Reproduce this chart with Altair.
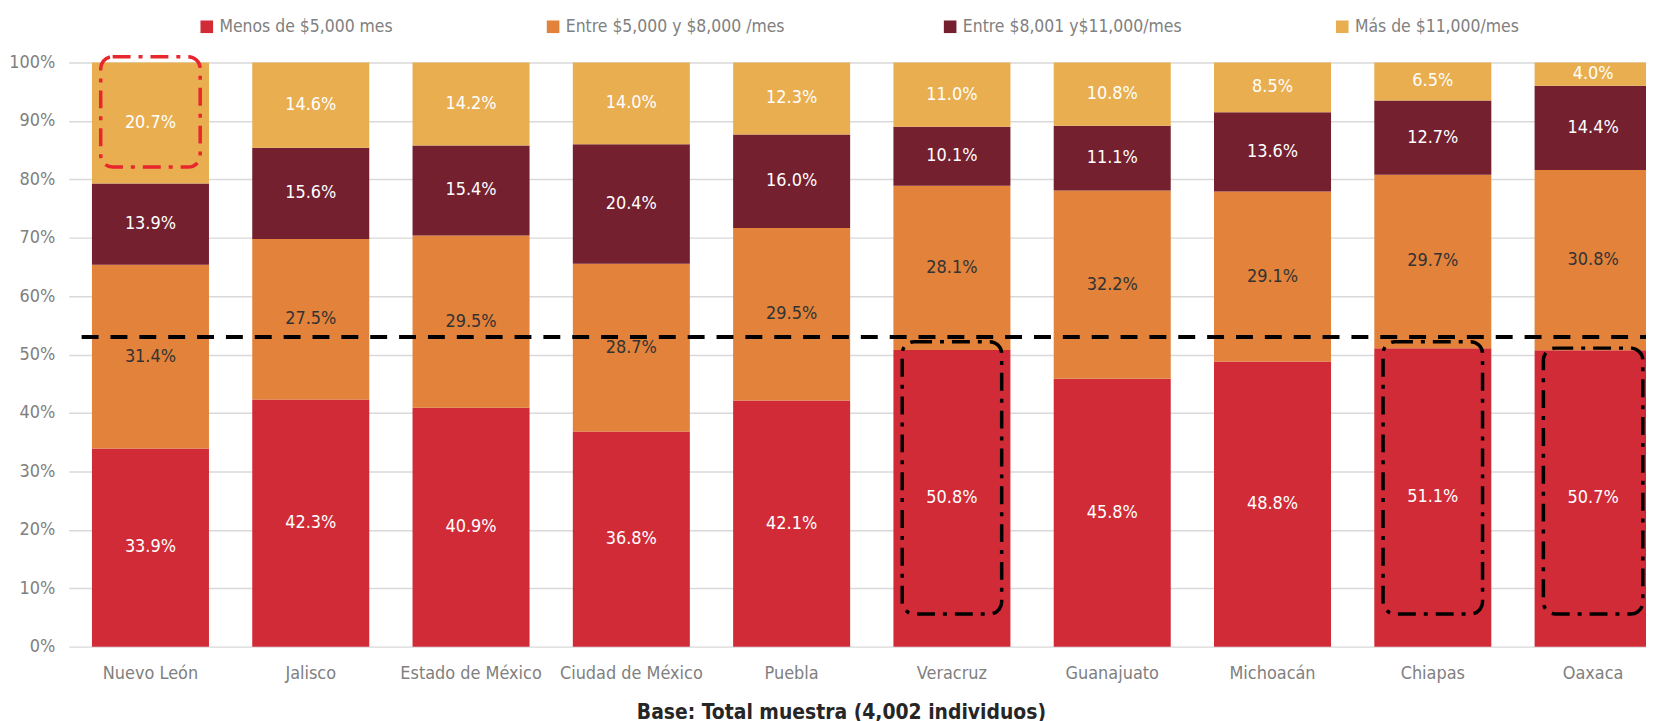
import altair as alt
import pandas as pd

# ---- data ----
estados = ["Nuevo León", "Jalisco", "Estado de México", "Ciudad de México", "Puebla",
           "Veracruz", "Guanajuato", "Michoacán", "Chiapas", "Oaxaca"]
categorias = ["Menos de $5,000 mes", "Entre $5,000 y $8,000  /mes",
              "Entre $8,001 y$11,000/mes", "Más de $11,000/mes"]
menos_5000 = [33.9, 42.3, 40.9, 36.8, 42.1, 50.8, 45.8, 48.8, 51.1, 50.7]
entre_5000_8000 = [31.4, 27.5, 29.5, 28.7, 29.5, 28.1, 32.2, 29.1, 29.7, 30.8]
entre_8001_11000 = [13.9, 15.6, 15.4, 20.4, 16.0, 10.1, 11.1, 13.6, 12.7, 14.4]
mas_11000 = [20.7, 14.6, 14.2, 14.0, 12.3, 11.0, 10.8, 8.5, 6.5, 4.0]
referencia = [53.0]  # dashed reference line (%)

# highlighted boxes (state, from %, to %)
ann_estados = ["Nuevo León", "Veracruz", "Chiapas", "Oaxaca"]
ann_desde = [82.1, 5.6, 5.6, 5.6]
ann_hasta = [101.0, 52.2, 52.2, 51.1]
ann_tipo = ["rojo", "negro", "negro", "negro"]

# ---- styles ----
colores = ["#D12B37", "#E2823B", "#74202F", "#E8AE50"]
colores_texto = ["#FFFFFF", "#333333", "#FFFFFF", "#FFFFFF"]
F = "DejaVu Sans Condensed"
GRIS = "#808080"

series = [menos_5000, entre_5000_8000, entre_8001_11000, mas_11000]
rows = []
for i, e in enumerate(estados):
    for j, cat in enumerate(categorias):
        rows.append({"estado": e, "categoria": cat, "orden": j,
                     "valor": series[j][i], "tcolor": colores_texto[j]})
df = pd.DataFrame(rows)

ann_df = pd.DataFrame({
    "estado": ann_estados,
    "desde": [v / 100 for v in ann_desde],
    "hasta": [v / 100 for v in ann_hasta],
    "scolor": ["#E8262E" if t == "rojo" else "#000000" for t in ann_tipo],
})
ref_df = pd.DataFrame({"ref": [v / 100 for v in referencia]})

xscale = alt.Scale(domain=estados, range=[0, 1614], paddingInner=0.27, paddingOuter=0.145)
yscale = alt.Scale(domain=[0, 1])

x_axis = alt.Axis(title="Base: Total muestra (4,002 individuos)", titleFont=F,
                  titleFontWeight="bold", titleFontSize=21, titleColor="#262626",
                  titlePadding=19, titleX=776, labelAngle=0, labelPadding=18,
                  ticks=False, domain=False, labelFont=F, labelFontSize=18,
                  labelColor=GRIS)
y_axis = alt.Axis(title=None, values=[i / 10 for i in range(11)], format=".0%",
                  grid=True, gridColor="#D9D9D9", gridWidth=1.5, domain=False,
                  ticks=False, labelPadding=14, labelFont=F, labelFontSize=18,
                  labelColor=GRIS)

base = alt.Chart(df).transform_stack(
    stack="valor", groupby=["estado"],
    sort=[alt.SortField("orden", order="ascending")],
    as_=["y0", "y1"], offset="normalize"
).transform_calculate(
    mid="(datum.y0 + datum.y1) / 2",
    etiqueta="format(datum.valor, '.1f') + '%'"
)

bars = base.mark_bar().encode(
    x=alt.X("estado:N", scale=xscale, axis=x_axis),
    y=alt.Y("y0:Q", scale=yscale, axis=y_axis),
    y2="y1:Q",
    color=alt.Color("categoria:N", scale=alt.Scale(domain=categorias, range=colores),
                    legend=alt.Legend(title=None, orient="none", legendX=130, legendY=-45,
                                      direction="horizontal", symbolType="square",
                                      symbolSize=160, symbolStrokeWidth=0,
                                      labelFont=F, labelFontSize=17.5, labelColor=GRIS,
                                      labelLimit=0, columnPadding=152, labelOffset=4)),
    order=alt.Order("orden:Q"),
)

labels = base.mark_text(font=F, fontSize=18).encode(
    x=alt.X("estado:N", scale=xscale),
    y=alt.Y("mid:Q", scale=yscale),
    text="etiqueta:N",
    color=alt.Color("tcolor:N", scale=None),
)

rule = alt.Chart(ref_df).mark_rule(color="black", strokeWidth=4, strokeDash=[17, 12]).encode(
    y=alt.Y("ref:Q", scale=yscale),
    x=alt.value(13),
    x2=alt.value(1585),
)

boxes = alt.Chart(ann_df).mark_bar(
    fill="transparent", strokeWidth=3.5, strokeDash=[18, 8, 4, 8], cornerRadius=12,
    width=alt.RelativeBandSize(band=0.85)
).encode(
    x=alt.X("estado:N", scale=xscale),
    y=alt.Y("desde:Q", scale=yscale),
    y2="hasta:Q",
    stroke=alt.Stroke("scolor:N", scale=None),
)

chart = alt.layer(bars, labels, rule, boxes).properties(
    width=1585, height=587,
    padding={"left": 61, "top": 53, "right": 0, "bottom": 76},
    autosize=alt.AutoSizeParams(type="none"),
).configure_view(stroke=None)

chart.save("out.html", embed_options={"renderer": "svg", "actions": False})
